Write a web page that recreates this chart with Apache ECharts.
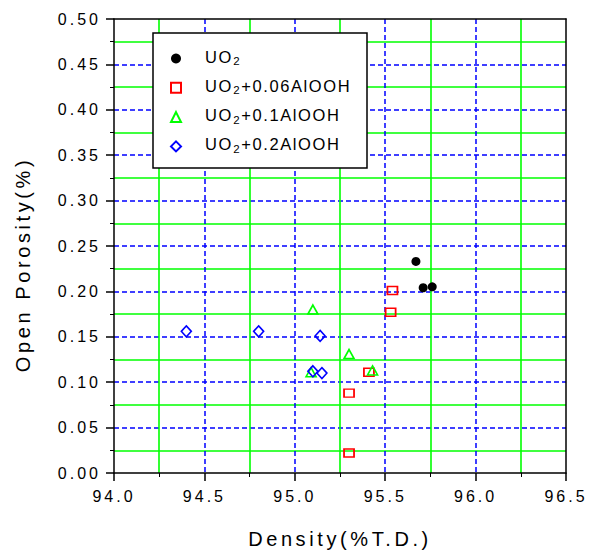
<!DOCTYPE html>
<html>
<head>
<meta charset="utf-8">
<script src="https://cdn.jsdelivr.net/npm/echarts@6/dist/echarts.min.js"></script>
<style>
html, body { margin: 0; padding: 0; background: #fff; }
#main { width: 589px; height: 555px; }
#main svg text { letter-spacing: 3px; }
#main svg text[style*="20px"] { letter-spacing: 3.6px; }
#main svg text[style*="16.5px"], #main svg text[style*="11.5px"] { letter-spacing: 1.6px; }
</style>
</head>
<body>
<div id="main"></div>
<script>
// ---- data ----
const seriesNames = ['UO2', 'UO2+0.06AlOOH', 'UO2+0.1AlOOH', 'UO2+0.2AlOOH'];
const uo2X = [95.67, 95.71, 95.76];
const uo2Y = [0.233, 0.204, 0.205];
const al006X = [95.54, 95.53, 95.41, 95.30, 95.30];
const al006Y = [0.201, 0.177, 0.111, 0.088, 0.022];
const al01X = [95.10, 95.30, 95.43, 95.09];
const al01Y = [0.180, 0.131, 0.113, 0.111];
const al02X = [94.40, 94.80, 95.14, 95.10, 95.15];
const al02Y = [0.156, 0.156, 0.151, 0.112, 0.110];
const xTickLabels = ['94.0', '94.5', '95.0', '95.5', '96.0', '96.5'];
const yTickLabels = ['0.00', '0.05', '0.10', '0.15', '0.20', '0.25', '0.30', '0.35', '0.40', '0.45', '0.50'];
const xTitle = 'Density(%T.D.)';
const yTitle = 'Open Porosity(%)';

const FONT = 'Liberation Sans';
const pairs = (xs, ys) => xs.map((x, i) => [x, ys[i]]);
const pick = (labels) => (v) => {
  const f = labels.find(l => Math.abs(parseFloat(l) - v) < 1e-6);
  return f === undefined ? '' : f;
};

const chart = echarts.init(document.getElementById('main'), null, { renderer: 'svg' });

const axisCommon = {
  type: 'value',
  axisLine: { show: true, onZero: false, lineStyle: { color: '#000', width: 1.5 } },
  axisTick: { show: true, inside: false, length: 8, lineStyle: { color: '#000', width: 1.5 } },
  minorTick: { show: true, splitNumber: 2, length: 4, lineStyle: { color: '#000', width: 1 } },
  splitLine: { show: true, showMinLine: false, showMaxLine: false, lineStyle: { color: '#0000ff', width: 1.5, type: [5, 3] } },
  minorSplitLine: { show: true, lineStyle: { color: '#00ff00', width: 1.6 } },
  nameTextStyle: { fontFamily: FONT, fontSize: 20, color: '#000' }
};

const frameAxis = {
  type: 'value',
  axisLine: { show: true, onZero: false, lineStyle: { color: '#000', width: 1.5 } },
  axisTick: { show: false }, axisLabel: { show: false },
  splitLine: { show: false }
};

const option = {
  animation: false,
  backgroundColor: '#fff',
  grid: { left: 114, right: 23, top: 19, bottom: 82, containLabel: false },
  xAxis: [
    Object.assign({}, axisCommon, {
      min: 94, max: 96.5, interval: 0.5,
      name: xTitle, nameLocation: 'middle', nameGap: 56,
      axisLabel: { margin: 15, fontFamily: FONT, fontSize: 16, color: '#000', formatter: pick(xTickLabels) }
    }),
    Object.assign({}, frameAxis, { position: 'top', min: 94, max: 96.5, interval: 0.5 })
  ],
  yAxis: [
    Object.assign({}, axisCommon, {
      min: 0, max: 0.5, interval: 0.05,
      name: yTitle, nameLocation: 'middle', nameGap: 81, nameRotate: 90,
      nameTextStyle: { fontFamily: FONT, fontSize: 20, color: '#000', padding: [0, 37, 0, 0] },
      axisLabel: { margin: 13, fontFamily: FONT, fontSize: 16, color: '#000', formatter: pick(yTickLabels) }
    }),
    Object.assign({}, frameAxis, { position: 'right', min: 0, max: 0.5, interval: 0.05 })
  ],
  graphic: [{
    type: 'rect', z: 5,
    shape: { x: 153, y: 33, width: 214, height: 135 },
    style: { fill: '#fff', stroke: '#000', lineWidth: 1.5 }
  }],
  legend: {
    z: 10,
    orient: 'vertical',
    left: 170, top: 48,
    padding: 0,
    itemWidth: 10, itemHeight: 10, itemGap: 10.3,
    align: 'left',
    data: seriesNames,
    formatter: (name) => '{u|UO}{s|2}' + (name.length > 3 ? '{b|' + name.slice(3) + '}' : ''),
    textStyle: {
      fontFamily: FONT, fontSize: 16.5, color: '#000',
      rich: {
        u: { fontFamily: FONT, fontSize: 16.5, lineHeight: 17, verticalAlign: 'bottom', padding: [0, 0, 2, 19], color: '#000' },
        s: { fontFamily: FONT, fontSize: 11.5, lineHeight: 11, verticalAlign: 'bottom', padding: [0, 0, 0, 3.5], color: '#000' },
        b: { fontFamily: FONT, fontSize: 16.5, lineHeight: 17, verticalAlign: 'bottom', padding: [0, 0, 2, 1.6], color: '#000' }
      }
    }
  },
  series: [
    {
      name: seriesNames[0], type: 'scatter', symbol: 'circle', symbolSize: 9,
      itemStyle: { color: '#000', opacity: 1 },
      data: pairs(uo2X, uo2Y), z: 3
    },
    {
      name: seriesNames[1], type: 'scatter', symbol: 'rect', symbolSize: [10, 8],
      itemStyle: { color: 'rgba(0,0,0,0)', borderColor: '#ff0000', borderWidth: 1.6, opacity: 1 },
      data: pairs(al006X, al006Y), z: 3
    },
    {
      name: seriesNames[2], type: 'scatter', symbol: 'triangle', symbolSize: [10, 9],
      itemStyle: { color: 'rgba(0,0,0,0)', borderColor: '#00ff00', borderWidth: 1.6, opacity: 1 },
      data: pairs(al01X, al01Y), z: 3
    },
    {
      name: seriesNames[3], type: 'scatter', symbol: 'diamond', symbolSize: [10, 11],
      itemStyle: { color: 'rgba(0,0,0,0)', borderColor: '#0000ff', borderWidth: 1.6, opacity: 1 },
      data: pairs(al02X, al02Y), z: 3
    }
  ]
};

chart.setOption(option);
</script>
</body>
</html>
